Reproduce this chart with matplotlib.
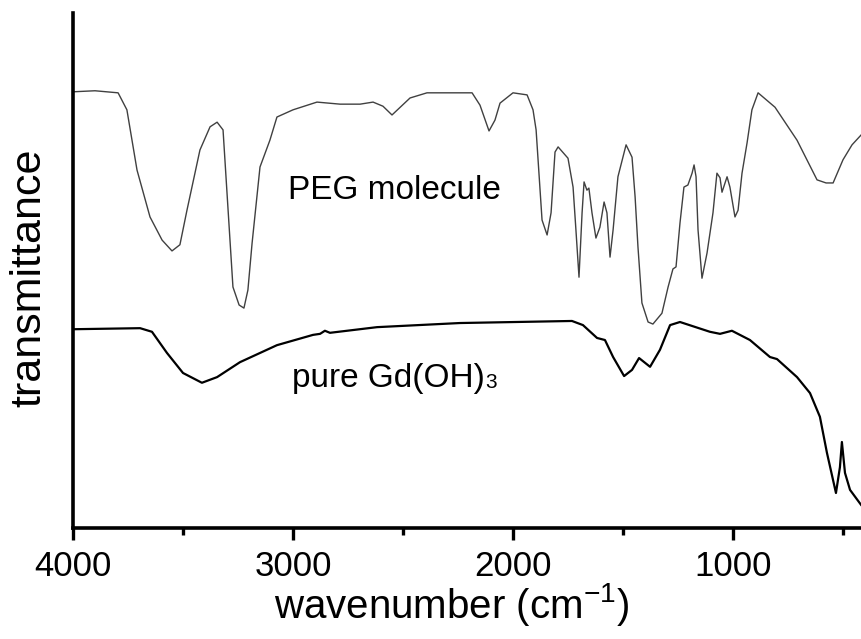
import matplotlib.pyplot as plt

plt.rcParams['font.family'] = ['Liberation Sans', 'DejaVu Sans']
plt.rcParams['mathtext.fontset'] = 'custom'
plt.rcParams['mathtext.rm'] = 'Liberation Sans'
plt.rcParams['mathtext.default'] = 'regular'

# PEG molecule spectrum (wavenumber in cm-1, transmittance in a.u.)
peg_wn = [4000, 3900, 3795, 3755, 3709, 3650, 3595, 3550, 3514, 3482, 3423, 3377,
          3345, 3318, 3295, 3273, 3245, 3223, 3205, 3186, 3150, 3105, 3073, 3000,
          2891, 2786, 2695, 2636, 2591, 2550, 2468, 2391, 2241, 2186, 2150, 2109,
          2082, 2059, 2000, 1936, 1909, 1895, 1868, 1845, 1827, 1809, 1795, 1750,
          1727, 1714, 1700, 1686, 1677, 1664, 1655, 1641, 1623, 1605, 1586, 1573,
          1559, 1545, 1523, 1486, 1459, 1445, 1432, 1414, 1386, 1364, 1323, 1295,
          1273, 1259, 1241, 1223, 1205, 1186, 1177, 1168, 1159, 1141, 1118, 1091,
          1073, 1059, 1050, 1027, 1014, 991, 977, 959, 936, 914, 886, 809, 709,
          618, 577, 545, 500, 459, 418]
peg_t = [84.7, 84.9, 84.5, 81.2, 69.5, 60.4, 55.9, 53.8, 55.0, 61.7, 73.4, 77.9,
         78.8, 77.3, 61.7, 46.8, 43.3, 42.7, 46.2, 55.3, 70.1, 75.3, 79.8, 81.2,
         82.7, 82.3, 82.3, 82.7, 81.9, 80.2, 83.5, 84.5, 84.5, 84.5, 82.1, 77.1,
         79.2, 82.5, 84.5, 84.1, 81.2, 77.3, 59.8, 56.9, 61.2, 73.0, 74.0, 71.8,
         66.2, 57.9, 48.7, 61.2, 67.2, 65.6, 66.0, 61.2, 56.3, 58.4, 63.3, 61.2,
         52.6, 57.9, 68.2, 74.4, 72.0, 64.3, 54.6, 43.7, 40.0, 39.6, 41.7, 46.8,
         50.3, 50.7, 59.2, 66.2, 66.6, 68.9, 70.5, 68.2, 57.9, 48.5, 53.4, 61.2,
         68.9, 68.0, 65.2, 68.2, 66.2, 60.4, 61.7, 68.9, 74.8, 81.2, 84.5, 81.7, 75.3,
         67.6, 67.0, 67.0, 71.5, 74.4, 76.3]

# pure Gd(OH)3 spectrum
gd_wn = [3995, 3695, 3641, 3573, 3500, 3414, 3345, 3241, 3073, 2909, 2877, 2855,
         2832, 2618, 2241, 1732, 1682, 1618, 1582, 1545, 1495, 1459, 1427, 1377,
         1332, 1286, 1241, 1105, 1059, 1005, 923, 832, 800, 709, 650, 605, 573,
         532, 514, 505, 491, 468, 418]
gd_t = [38.6, 38.8, 38.1, 34.0, 30.1, 28.2, 29.3, 32.2, 35.5, 37.5, 37.7, 38.3,
        37.9, 39.0, 39.8, 40.2, 39.4, 36.9, 36.5, 33.2, 29.5, 30.7, 33.0, 31.3,
        34.6, 39.4, 40.0, 38.1, 37.7, 38.3, 36.5, 33.2, 32.8, 29.3, 26.2, 21.6,
        14.6, 6.8, 11.8, 16.7, 10.7, 7.4, 4.5]

fig = plt.figure(figsize=(8.61, 6.39), dpi=100)
ax = fig.add_axes([73 / 861, 1 - 528 / 639, 1 - 73 / 861, 515 / 639])

ax.plot(peg_wn, peg_t, color='#404040', lw=1.0)
ax.plot(gd_wn, gd_t, color='black', lw=1.6)

ax.set_xlim(4000, 4000 - (861 - 73) * 1000 / 220)
ax.set_ylim(0, 100)

for s in ['top', 'right']:
    ax.spines[s].set_visible(False)
for s in ['left', 'bottom']:
    ax.spines[s].set_linewidth(2.6)

ax.set_xticks([4000, 3000, 2000, 1000])
ax.set_xticks([3500, 2500, 1500, 500], minor=True)
ax.set_yticks([])
ax.tick_params(axis='x', which='major', length=8.5, width=2.4, labelsize=25, pad=7)
ax.tick_params(axis='x', which='minor', length=5, width=2.4)

ax.set_xlabel('wavenumber (cm$^{-1}$)', fontsize=29, labelpad=-1)
ax.xaxis.label.set_x(0.48)
ax.set_ylabel('transmittance', fontsize=31, labelpad=17)
ax.yaxis.label.set_y(0.485)

ax.text(3023, 65.6, 'PEG molecule', fontsize=24, ha='left', va='center')
t = ax.text(3005, 27.4, 'pure Gd(OH)', fontsize=24, ha='left', va='baseline')
ax.annotate('3', xy=(1, 0.19), xycoords=t, fontsize=15, ha='left', va='baseline')

fig.savefig('out.png', dpi=100)
